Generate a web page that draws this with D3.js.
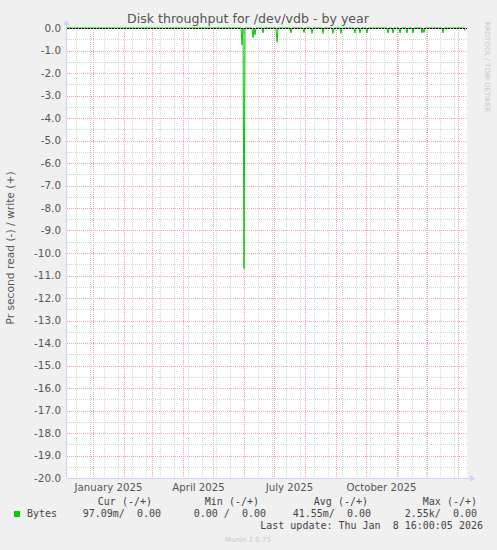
<!DOCTYPE html>
<html>
<head>
<meta charset="utf-8">
<script src="https://cdn.jsdelivr.net/npm/d3@7"></script>
<style>
  body { margin: 0; background: #f0f0f0; }
  svg { display: block; }
  text { font-family: "DejaVu Sans", sans-serif; }
  .mono { font-family: "DejaVu Sans Mono", monospace; white-space: pre; }
</style>
</head>
<body>
<div id="chart-area"></div>
<script>
var outerWidth = 497;
var outerHeight = 550;
var margin = {left: 67, right: 30, top: 28, bottom: 72};
var innerWidth = outerWidth - margin.left - margin.right;   // 400
var innerHeight = outerHeight - margin.top - margin.bottom; // 450
var parseTime = d3.timeParse("%Y-%m-%d");

// read (-) series, bytes per second, one point per day
var readDates = [
  "2024-12-06", "2025-05-29", "2025-05-30", "2025-05-31", "2025-06-01", "2025-06-02",
  "2025-06-09", "2025-06-10", "2025-06-11", "2025-06-12", "2025-06-13",
  "2025-06-19", "2025-06-20", "2025-06-21",
  "2025-07-03", "2025-07-04", "2025-07-05",
  "2025-07-17", "2025-07-18", "2025-07-19",
  "2025-07-30", "2025-07-31", "2025-08-01",
  "2025-08-07", "2025-08-08", "2025-08-09",
  "2025-08-18", "2025-08-19", "2025-08-20",
  "2025-08-28", "2025-08-29", "2025-08-30",
  "2025-09-05", "2025-09-06", "2025-09-07",
  "2025-09-19", "2025-09-20", "2025-09-21",
  "2025-09-24", "2025-09-25", "2025-09-26",
  "2025-10-01", "2025-10-02", "2025-10-03",
  "2025-10-22", "2025-10-23", "2025-10-24",
  "2025-10-27", "2025-10-28", "2025-10-29",
  "2025-11-03", "2025-11-04", "2025-11-05",
  "2025-11-10", "2025-11-11", "2025-11-12",
  "2025-11-16", "2025-11-17", "2025-11-18",
  "2025-11-25", "2025-11-26", "2025-11-27", "2025-11-28", "2025-11-29",
  "2025-12-16", "2025-12-17", "2025-12-18",
  "2026-01-07", "2026-01-08"
];
var readValues = [
  0, 0, 0.75, 0, 10.7, 0,
  0, 0.42, 0, 0.3, 0,
  0, 0.22, 0,
  0, 0.63, 0,
  0, 0.22, 0,
  0, 0.2, 0,
  0, 0.24, 0,
  0, 0.24, 0,
  0, 0.24, 0,
  0, 0.24, 0,
  0, 0.22, 0,
  0, 0.22, 0,
  0, 0.22, 0,
  0, 0.22, 0,
  0, 0.22, 0,
  0, 0.22, 0,
  0, 0.22, 0,
  0, 0.22, 0,
  0, 0.22, 0.05, 0.2, 0,
  0, 0.22, 0,
  0, 0.12
];

var yTicks = d3.range(0, -20.5, -1);
var monthLabels = ["2025-01-16", "2025-04-16", "2025-07-16", "2025-10-16"];
var legendHeader = ["Cur (-/+)", "Min (-/+)", "Avg (-/+)", "Max (-/+)"];
var legendValues = ["97.09m/  0.00", "0.00 /  0.00", "41.55m/  0.00", "2.55k/  0.00"];
var legendRight = [152, 259, 368, 477];
var legendValRight = [161, 266, 371, 477];

var readData = readDates.map(function(d, i) {
  return {date: parseTime(d), value: readValues[i]};
});

var svg = d3.select('#chart-area').append('svg')
            .attr('width', outerWidth)
            .attr('height', outerHeight);

svg.append('rect')
   .attr('width', outerWidth).attr('height', outerHeight)
   .attr('fill', '#f0f0f0');

var g = svg.append('g')
           .attr('transform', 'translate(' + margin.left + ',' + margin.top + ')');

g.append('rect')
 .attr('width', innerWidth).attr('height', innerHeight)
 .attr('fill', '#ffffff');

var xScale = d3.scaleTime()
               .domain([parseTime("2024-12-06"), parseTime("2026-01-10")])
               .range([0, innerWidth]);
var yScale = d3.scaleLinear().domain([-20, 0]).range([innerHeight, 0]);

// grid, minor then major
var minorX = d3.timeDay.range(parseTime("2024-12-15"), parseTime("2026-01-10"), 14);
var majorX = d3.timeMonth.range(parseTime("2025-01-01"), parseTime("2026-01-10"));
var minorY = d3.range(-0.5, -20, -1);

var grid = g.append('g').attr('shape-rendering', 'crispEdges');
grid.selectAll('.minor-x').data(minorX).enter().append('line')
    .attr('x1', function(d){ return Math.round(xScale(d)) + 0.5; })
    .attr('x2', function(d){ return Math.round(xScale(d)) + 0.5; })
    .attr('y1', 0).attr('y2', innerHeight)
    .attr('stroke', '#d4d4d4').attr('stroke-dasharray', '1,1');
grid.selectAll('.minor-y').data(minorY).enter().append('line')
    .attr('x1', 0).attr('x2', innerWidth)
    .attr('y1', function(d){ return Math.round(yScale(d)) + 0.5; })
    .attr('y2', function(d){ return Math.round(yScale(d)) + 0.5; })
    .attr('stroke', '#d4d4d4').attr('stroke-dasharray', '1,1');
grid.selectAll('.major-x').data(majorX).enter().append('line')
    .attr('x1', function(d){ return Math.round(xScale(d)) + 0.5; })
    .attr('x2', function(d){ return Math.round(xScale(d)) + 0.5; })
    .attr('y1', 0).attr('y2', innerHeight)
    .attr('stroke', '#f4a4a4').attr('stroke-dasharray', '1,1');
grid.selectAll('.major-y').data(yTicks).enter().append('line')
    .attr('x1', 0).attr('x2', innerWidth)
    .attr('y1', function(d){ return Math.round(yScale(d)) + 0.5; })
    .attr('y2', function(d){ return Math.round(yScale(d)) + 0.5; })
    .attr('stroke', '#f4a4a4').attr('stroke-dasharray', '1,1');

// data line (read shown as negative)
var line = d3.line()
             .x(function(d){ return xScale(d.date); })
             .y(function(d){ return yScale(-d.value); });
g.append('path')
 .attr('d', line(readData))
 .attr('fill', 'none')
 .attr('stroke', '#00cc00')
 .attr('stroke-width', 1);

// zero rule
g.append('line')
 .attr('x1', 0).attr('x2', innerWidth)
 .attr('y1', yScale(0) + 0.5).attr('y2', yScale(0) + 0.5)
 .attr('stroke', '#000').attr('stroke-width', 1)
 .attr('stroke-dasharray', '2,1');

// axes
var axisColor = '#cfd3f8';
g.append('line').attr('x1', -0.5).attr('x2', -0.5).attr('y1', -4).attr('y2', innerHeight)
 .attr('stroke', axisColor);
g.append('line').attr('x1', 0).attr('x2', innerWidth + 4).attr('y1', innerHeight + 0.5).attr('y2', innerHeight + 0.5)
 .attr('stroke', axisColor);
g.append('path').attr('d', 'M-4,-3 L-0.5,-8 L3,-3 Z').attr('fill', axisColor);
g.append('path').attr('d', 'M' + (innerWidth + 3) + ',' + (innerHeight - 3) + ' L' + (innerWidth + 8) + ',' + (innerHeight + 0.5) + ' L' + (innerWidth + 3) + ',' + (innerHeight + 4) + ' Z')
 .attr('fill', axisColor);

var yAxis = d3.axisLeft(yScale)
              .tickValues(yTicks)
              .tickSize(0)
              .tickPadding(6)
              .tickFormat(function(d){ return d.toFixed(1); });
var yAxisG = g.append('g').call(yAxis);
yAxisG.select('.domain').remove();
yAxisG.selectAll('text').attr('font-size', '10.4px').attr('fill', '#555')
      .attr('font-family', '"DejaVu Sans", sans-serif');

var xAxis = d3.axisBottom(xScale)
              .tickValues(monthLabels.map(parseTime))
              .tickSize(0)
              .tickPadding(6)
              .tickFormat(d3.timeFormat("%B %Y"));
var xAxisG = g.append('g').attr('transform', 'translate(0,' + innerHeight + ')').call(xAxis);
xAxisG.select('.domain').remove();
xAxisG.selectAll('text').attr('font-size', '10.2px').attr('fill', '#555')
      .attr('font-family', '"DejaVu Sans", sans-serif');

// title and labels
svg.append('text')
   .attr('x', 248).attr('y', 23)
   .attr('text-anchor', 'middle')
   .attr('font-size', '12.6px')
   .attr('fill', '#555')
   .text('Disk throughput for /dev/vdb - by year');

svg.append('text')
   .attr('transform', 'translate(14,' + (margin.top + innerHeight / 2 - 5) + ') rotate(-90)')
   .attr('text-anchor', 'middle')
   .attr('font-size', '10.7px')
   .attr('fill', '#555')
   .text('Pr second read (-) / write (+)');

svg.append('text')
   .attr('transform', 'translate(485,22) rotate(90)')
   .attr('font-size', '7px')
   .attr('fill', '#c8c8c8')
   .text('RRDTOOL / TOBI OETIKER');

// legend
svg.append('rect').attr('x', 14).attr('y', 511).attr('width', 6).attr('height', 6).attr('fill', '#00cc00');
svg.append('text').attr('class', 'mono').attr('x', 27).attr('y', 517)
   .attr('font-size', '10px').attr('fill', '#444').text('Bytes');
svg.selectAll('.lh').data(legendHeader).enter().append('text')
   .attr('class', 'mono')
   .attr('x', function(d, i){ return legendRight[i]; }).attr('y', 505)
   .attr('text-anchor', 'end').attr('font-size', '10px').attr('fill', '#444')
   .text(function(d){ return d; });
svg.selectAll('.lv').data(legendValues).enter().append('text')
   .attr('class', 'mono')
   .attr('x', function(d, i){ return legendValRight[i]; }).attr('y', 517)
   .attr('text-anchor', 'end').attr('font-size', '10px').attr('fill', '#444')
   .text(function(d){ return d; });
svg.append('text').attr('class', 'mono').attr('x', 483).attr('y', 529)
   .attr('text-anchor', 'end').attr('font-size', '10px').attr('fill', '#444')
   .text('Last update: Thu Jan  8 16:00:05 2026');

svg.append('text')
   .attr('x', 248).attr('y', 542)
   .attr('text-anchor', 'middle')
   .attr('font-size', '7px')
   .attr('fill', '#c8c8c8')
   .text('Munin 2.0.75');
</script>
</body>
</html>
